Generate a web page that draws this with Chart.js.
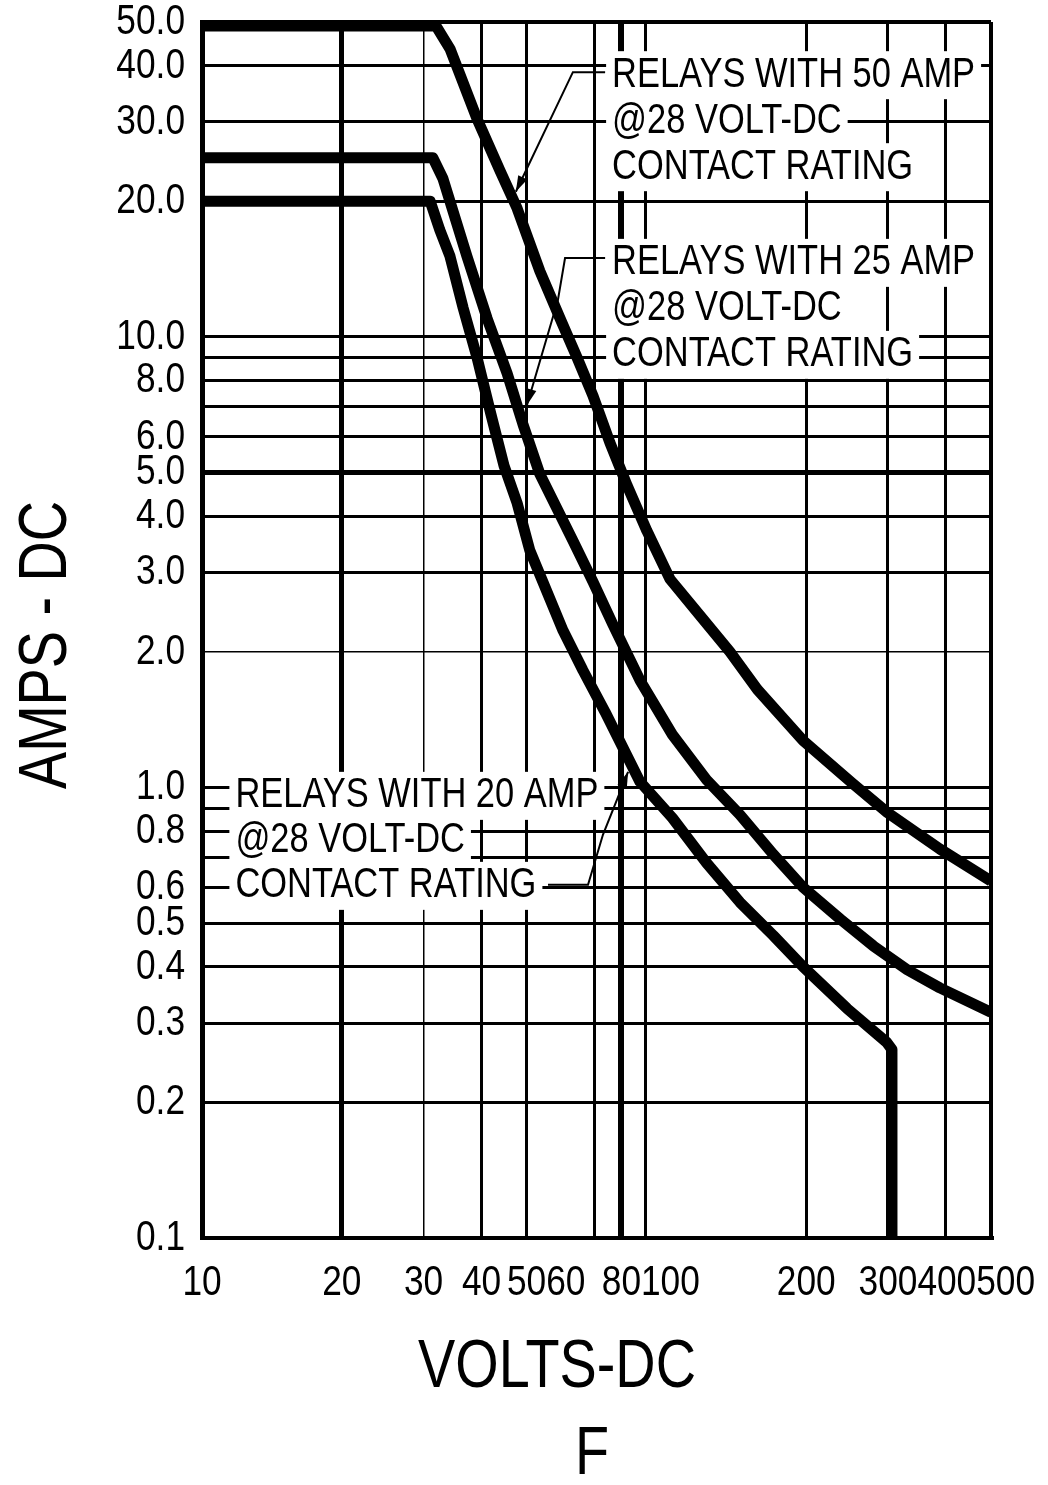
<!DOCTYPE html>
<html lang="en">
<head>
<meta charset="utf-8">
<title>Relays DC load curves</title>
<script src="https://cdn.jsdelivr.net/npm/chart.js@4.4.1/dist/chart.umd.min.js"></script>
<style>
  html, body { margin: 0; padding: 0; background: #fff; }
  #wrap { width: 1048px; height: 1485px; position: relative; }
</style>
</head>
<body>
<div id="wrap"><canvas id="grafico"></canvas></div>
<script>
// Curvas (voltios, amperios)
const volts50 = [10, 31.9, 34.2, 39.1, 43.8, 47.7, 53.4, 59.0, 64.2, 69.5, 75.6, 82.3, 90.8, 101.8, 118, 137, 157, 197, 252, 299, 388, 500];
const amps50  = [49, 49, 43.6, 30.5, 23.4, 19.3, 14.0, 11.0, 9.0, 7.4, 5.82, 4.68, 3.71, 2.90, 2.41, 2.0, 1.65, 1.27, 1.02, 0.88, 0.73, 0.62];

const volts25 = [10, 31.4, 33.0, 37.2, 41.1, 45.4, 49.1, 53.4, 62.9, 69.5, 76.7, 87.7, 103, 122, 144, 170, 197, 237, 279, 330, 388, 500];
const amps25  = [25, 25, 22.5, 15.1, 11.0, 8.3, 6.4, 4.96, 3.53, 2.86, 2.30, 1.73, 1.31, 1.04, 0.87, 0.71, 0.60, 0.51, 0.445, 0.394, 0.359, 0.317];

const volts20 = [10, 31.0, 32.5, 34.2, 36.5, 39.1, 41.9, 44.7, 47.7, 50.8, 54.2, 59.9, 66.1, 73.8, 87.7, 103, 122, 144, 170, 197, 245, 298, 306, 306];
const amps20  = [20, 20, 17.3, 15.1, 11.6, 9.0, 6.73, 5.18, 4.28, 3.36, 2.86, 2.23, 1.82, 1.47, 1.03, 0.856, 0.68, 0.556, 0.469, 0.40, 0.323, 0.272, 0.262, 0.1];

// Ejes
const xTicks     = [10, 20, 30, 40, 50, 60, 70, 80, 90, 100, 200, 300, 400, 500];
const xEtiquetas = [10, 20, 30, 40, 50, 60, 80, 100, 200, 300, 400, 500];
const yTicks     = [0.1, 0.2, 0.3, 0.4, 0.5, 0.6, 0.7, 0.8, 0.9, 1, 2, 3, 4, 5, 6, 7, 8, 9, 10, 20, 30, 40, 50];
const yEtiquetas = [0.1, 0.2, 0.3, 0.4, 0.5, 0.6, 0.8, 1, 2, 3, 4, 5, 6, 8, 10, 20, 30, 40, 50];

// Textos de las notas
const nota50 = ['RELAYS WITH 50 AMP', '@28 VOLT-DC', 'CONTACT RATING'];
const nota25 = ['RELAYS WITH 25 AMP', '@28 VOLT-DC', 'CONTACT RATING'];
const nota20 = ['RELAYS WITH 20 AMP', '@28 VOLT-DC', 'CONTACT RATING'];

const fuente = "'Liberation Sans', Arial, sans-serif";
const estrecho = 0.82; // el original usa una letra estrecha

function puntos(vs, as) {
    return vs.map((v, i) => ({ x: v, y: as[i] }));
}

// texto comprimido en horizontal
function textoEstrecho(ctx, t, x, y) {
    ctx.save();
    ctx.translate(x, y);
    ctx.scale(estrecho, 1);
    ctx.fillText(t, 0, 0);
    ctx.restore();
}

// anclas de las notas y de las flechas, en unidades del grafico
const cajas = [
    { lineas: nota50, v: 76.4, a: 38.1, paso: 46,
      flecha: [[73.8, 38.7], [62.9, 38.7], [47.4, 21.0]] },
    { lineas: nota25, v: 76.4, a: 14.6, paso: 46,
      flecha: [[73.8, 14.97], [60.5, 14.97], [58.4, 12.08], [50.1, 7.06]] },
    { lineas: nota20, v: 11.8, a: 0.958, paso: 45,
      flecha: [[55.6, 0.608], [67.8, 0.608], [73.0, 0.785], [82.7, 1.083]] }
];

const notas = {
    id: 'notas',
    beforeDatasetsDraw(chart) {
        const { ctx, scales: { x, y } } = chart;
        ctx.save();
        ctx.font = '42px ' + fuente;
        ctx.textBaseline = 'middle';
        // fondo blanco detras de cada linea de texto
        cajas.forEach(c => {
            const px = x.getPixelForValue(c.v);
            const py = y.getPixelForValue(c.a);
            c.lineas.forEach((t, i) => {
                const w = ctx.measureText(t).width * estrecho;
                ctx.fillStyle = '#fff';
                ctx.fillRect(px - 6, py + i * c.paso - 24, w + 12, 48);
            });
        });
        // lineas guia con su flecha
        ctx.strokeStyle = '#000';
        ctx.fillStyle = '#000';
        ctx.lineWidth = 2;
        cajas.forEach(c => {
            const pts = c.flecha.map(p => [x.getPixelForValue(p[0]), y.getPixelForValue(p[1])]);
            ctx.beginPath();
            pts.forEach((p, i) => i ? ctx.lineTo(p[0], p[1]) : ctx.moveTo(p[0], p[1]));
            ctx.stroke();
            const a = pts[pts.length - 2], b = pts[pts.length - 1];
            const ang = Math.atan2(b[1] - a[1], b[0] - a[0]);
            ctx.beginPath();
            ctx.moveTo(b[0], b[1]);
            ctx.lineTo(b[0] - 16 * Math.cos(ang) + 5 * Math.sin(ang), b[1] - 16 * Math.sin(ang) - 5 * Math.cos(ang));
            ctx.lineTo(b[0] - 16 * Math.cos(ang) - 5 * Math.sin(ang), b[1] - 16 * Math.sin(ang) + 5 * Math.cos(ang));
            ctx.closePath();
            ctx.fill();
        });
        // texto
        cajas.forEach(c => {
            const px = x.getPixelForValue(c.v);
            const py = y.getPixelForValue(c.a);
            c.lineas.forEach((t, i) => textoEstrecho(ctx, t, px, py + i * c.paso));
        });
        ctx.restore();
    },
    afterDraw(chart) {
        const { ctx, chartArea, scales: { x, y } } = chart;
        ctx.save();
        ctx.fillStyle = '#000';
        ctx.textBaseline = 'middle';

        // etiquetas del eje Y (letra estrecha, como el original)
        ctx.font = '43px ' + fuente;
        ctx.textAlign = 'right';
        yEtiquetas.forEach(v => {
            textoEstrecho(ctx, v.toFixed(1), chartArea.left - 17, y.getPixelForValue(v));
        });

        // etiquetas del eje X: se empujan a la derecha si se pisan
        ctx.textAlign = 'center';
        let derecha = -Infinity;
        xEtiquetas.forEach(v => {
            const t = String(v);
            const w = ctx.measureText(t).width * estrecho;
            let cx = x.getPixelForValue(v);
            if (cx - w / 2 < derecha) cx = derecha + w / 2;
            derecha = cx + w / 2;
            textoEstrecho(ctx, t, cx, chartArea.bottom + 45);
        });

        // titulos de los ejes
        ctx.font = '68px ' + fuente;
        textoEstrecho(ctx, 'VOLTS-DC', 557, 1368);
        textoEstrecho(ctx, 'F', 592, 1455);
        ctx.translate(47, 645);
        ctx.rotate(-Math.PI / 2);
        textoEstrecho(ctx, 'AMPS - DC', 0, 0);
        ctx.restore();
    }
};

function anchoX(v) {
    if (v === 20) return 5;
    if (v === 30) return 1.5;
    if (v === 80) return 6;
    if (v === 10) return 5;
    if (v === 500) return 4;
    return 3;
}
function anchoY(v) {
    if (v === 5) return 5;
    if (v === 2) return 1.5;
    if (v === 50 || v === 0.1) return 4;
    return 3;
}

document.addEventListener('DOMContentLoaded', () => {
    Chart.defaults.font.family = fuente;
    Chart.defaults.color = '#000';
    const ctx = document.getElementById('grafico').getContext('2d');
    new Chart(ctx, {
        type: 'line',
        data: {
            datasets: [
                { label: '50 AMP', data: puntos(volts50, amps50) },
                { label: '25 AMP', data: puntos(volts25, amps25) },
                { label: '20 AMP', data: puntos(volts20, amps20) }
            ]
        },
        options: {
            responsive: true,
            maintainAspectRatio: false,
            animation: false,
            layout: { padding: { top: 22, right: 57, bottom: 0, left: 0 } },
            elements: {
                line: { borderColor: '#000', borderWidth: 11, tension: 0, borderJoinStyle: 'round', fill: false },
                point: { radius: 0, hoverRadius: 0 }
            },
            plugins: {
                legend: { display: false },
                tooltip: { enabled: false }
            },
            scales: {
                x: {
                    type: 'logarithmic',
                    min: 10,
                    max: 500,
                    afterBuildTicks: s => { s.ticks = xTicks.map(v => ({ value: v })); },
                    afterFit: s => { s.height = 247; s.paddingLeft = 0; s.paddingRight = 0; },
                    grid: {
                        drawTicks: false,
                        color: c => (c.tick && (c.tick.value === 60 || c.tick.value === 100)) ? 'rgba(0,0,0,0)' : '#000',
                        lineWidth: c => c.tick ? anchoX(c.tick.value) : 3
                    },
                    border: { color: '#000', width: 4 },
                    ticks: { display: false, autoSkip: false }
                },
                y: {
                    type: 'logarithmic',
                    min: 0.1,
                    max: 50,
                    afterBuildTicks: s => { s.ticks = yTicks.map(v => ({ value: v })); },
                    afterFit: s => { s.width = 202; s.paddingTop = 0; s.paddingBottom = 0; },
                    grid: {
                        drawTicks: false,
                        color: '#000',
                        lineWidth: c => c.tick ? anchoY(c.tick.value) : 3
                    },
                    border: { color: '#000', width: 5 },
                    ticks: { display: false, autoSkip: false }
                }
            }
        },
        plugins: [notas]
    });
});
</script>
</body>
</html>
